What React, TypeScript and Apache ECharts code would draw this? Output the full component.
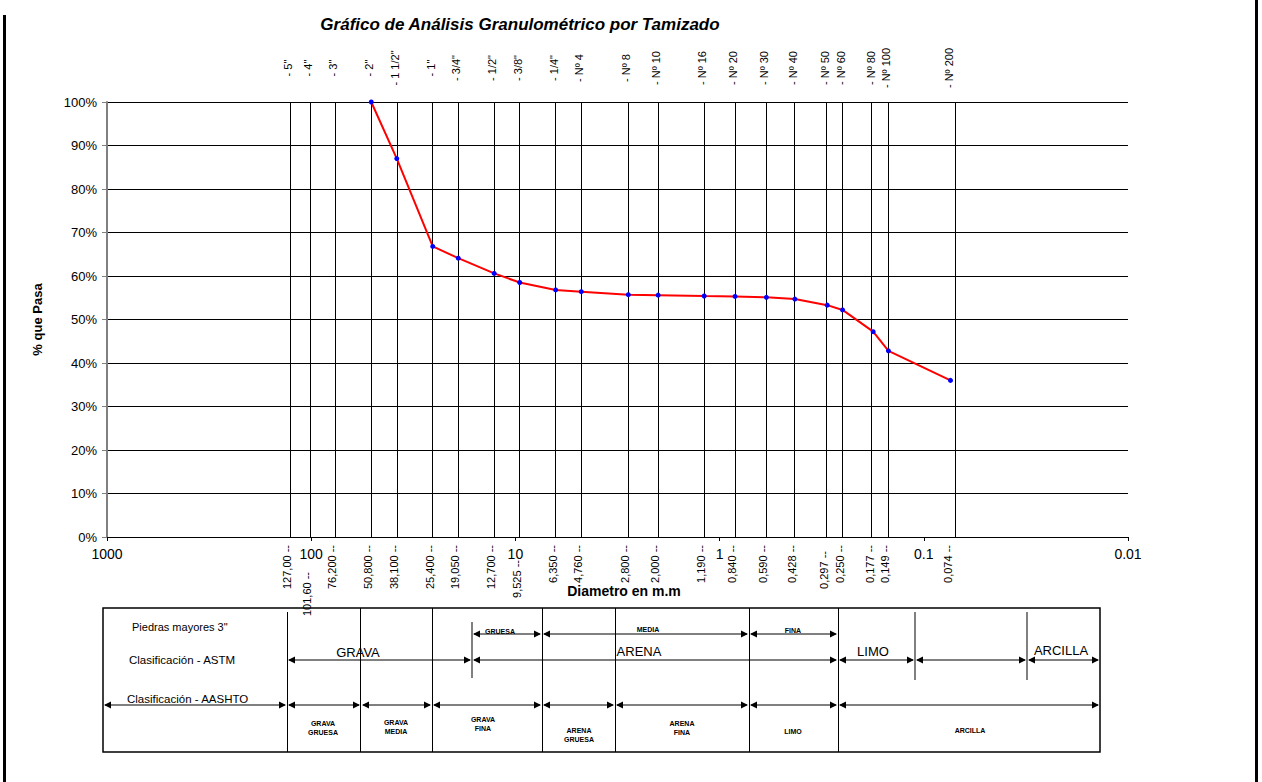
import React, { useEffect, useRef } from "react";
import * as echarts from "echarts";

// ---- data ----
const sieveNames = ['5"', '4"', '3"', '2"', '1 1/2"', '1"', '3/4"', '1/2"', '3/8"', '1/4"', 'Nº 4', 'Nº 8', 'Nº 10', 'Nº 16', 'Nº 20', 'Nº 30', 'Nº 40', 'Nº 50', 'Nº 60', 'Nº 80', 'Nº 100', 'Nº 200'];
const sieveDiam = [127, 101.6, 76.2, 50.8, 38.1, 25.4, 19.05, 12.7, 9.525, 6.35, 4.76, 2.8, 2.0, 1.19, 0.84, 0.59, 0.428, 0.297, 0.25, 0.177, 0.149, 0.074];
const sieveDiamLabels = ['127,00', '101,60', '76,200', '50,800', '38,100', '25,400', '19,050', '12,700', '9,525', '6,350', '4,760', '2,800', '2,000', '1,190', '0,840', '0,590', '0,428', '0,297', '0,250', '0,177', '0,149', '0,074'];
const testDiam = [50.8, 38.1, 25.4, 19.05, 12.7, 9.525, 6.35, 4.76, 2.8, 2.0, 1.19, 0.84, 0.59, 0.428, 0.297, 0.25, 0.177, 0.149, 0.074];
const percentPassing = [100, 87.0, 66.8, 64.1, 60.6, 58.5, 56.8, 56.4, 55.7, 55.6, 55.4, 55.3, 55.1, 54.7, 53.3, 52.2, 47.2, 42.8, 36.0];

const TITLE = "Gráfico de Análisis Granulométrico por Tamizado";
const X_NAME = "Diametro en m.m";
const Y_NAME = "% que Pasa";

const FONT = "Liberation Sans, Arial, sans-serif";

// label vertical drop (px) for crowded bottom labels
const bottomLabelDrop: Record<string, number> = { "101,60": 27, "9,525": 15, "0,297": 6 };

function arrow(x1: number, x2: number, y: number): any[] {
  return [
    { type: "line", shape: { x1: x1 + 2, y1: y, x2: x2 - 2, y2: y }, style: { stroke: "#000", lineWidth: 1 } },
    { type: "polygon", shape: { points: [[x1 + 1, y], [x1 + 8, y - 3.5], [x1 + 8, y + 3.5]] }, style: { fill: "#000" } },
    { type: "polygon", shape: { points: [[x2 - 1, y], [x2 - 8, y - 3.5], [x2 - 8, y + 3.5]] }, style: { fill: "#000" } },
  ];
}

function txt(text: string, x: number, y: number, size: number, bold = false, align = "center"): any {
  return {
    type: "text",
    x,
    y,
    style: {
      text,
      fill: "#000",
      fontSize: size,
      fontFamily: FONT,
      fontWeight: bold ? "bold" : "normal",
      align,
      verticalAlign: "middle",
      lineHeight: size + 2,
    },
  };
}

function vline(x: number, y1: number, y2: number, color = "#000", w = 1): any {
  return { type: "line", shape: { x1: x, y1, x2: x, y2 }, style: { stroke: color, lineWidth: w } };
}

function tableGraphics(): any[] {
  const g: any[] = [];
  // outer box
  g.push({ type: "rect", shape: { x: 103, y: 608, width: 997, height: 144 }, style: { fill: "none", stroke: "#000", lineWidth: 1.5 } });
  // dividers
  g.push(vline(287.5, 612, 752));
  [360.5, 432.5, 542.5, 615.5, 749.5, 838.5].forEach((x) => g.push(vline(x, 608, 752)));
  g.push(vline(472, 622, 678, "#808080", 2));
  g.push(vline(915, 612, 680, "#808080", 2));
  g.push(vline(1027, 612, 680, "#808080", 2));
  // row 1 (sub-classes of arena)
  g.push(...arrow(472, 542, 634), ...arrow(542, 749, 634), ...arrow(749, 838, 634));
  g.push(txt("GRUESA", 500, 631, 7, true), txt("MEDIA", 648, 629, 7, true), txt("FINA", 793, 630, 7, true));
  // ASTM row
  g.push(...arrow(287, 472, 660), ...arrow(472, 838, 660), ...arrow(838, 915, 660), ...arrow(915, 1027, 660), ...arrow(1027, 1100, 660));
  g.push(txt("GRAVA", 358, 652, 13), txt("ARENA", 639, 651, 13), txt("LIMO", 873, 651, 13), txt("ARCILLA", 1061, 650, 13));
  // AASHTO row
  [[103, 287], [287, 361], [361, 432], [432, 542], [542, 615], [615, 749], [749, 838], [838, 1100]].forEach(([a, b]) =>
    g.push(...arrow(a, b, 705))
  );
  g.push(txt("Piedras mayores 3\"", 132, 627, 11, false, "left"));
  g.push(txt("Clasificación - ASTM", 129, 660, 11.5, false, "left"));
  g.push(txt("Clasificación - AASHTO", 127, 699, 11.5, false, "left"));
  g.push(txt("GRAVA\nGRUESA", 323, 728, 7, true));
  g.push(txt("GRAVA\nMEDIA", 396, 727, 7, true));
  g.push(txt("GRAVA\nFINA", 483, 724, 7, true));
  g.push(txt("ARENA\nGRUESA", 579, 735, 7, true));
  g.push(txt("ARENA\nFINA", 682, 728, 7, true));
  g.push(txt("LIMO", 793, 731, 7, true));
  g.push(txt("ARCILLA", 970, 730, 7, true));
  return g;
}

export default function App() {
  const ref = useRef<HTMLDivElement>(null);
  useEffect(() => {
    if (!ref.current) return;
    const chart = echarts.init(ref.current, null, { renderer: "svg" });
    const option: any = {
      animation: false,
      backgroundColor: "#fff",
      grid: { left: 107, right: 134, top: 102, bottom: 245, containLabel: false },
      xAxis: {
        type: "log",
        logBase: 10,
        min: 0.01,
        max: 1000,
        inverse: true,
        splitNumber: 5,
        axisLine: { show: true, lineStyle: { color: "#000", width: 1 } },
        axisTick: { show: true, length: 4, lineStyle: { color: "#000" } },
        minorTick: { show: false },
        splitLine: { show: false },
        axisLabel: {
          fontSize: 14,
          fontFamily: FONT,
          color: "#000",
          margin: 10,
          showMinLabel: true,
          showMaxLabel: true,
          formatter: (v: number) => String(+Number(v).toPrecision(6)),
        },
      },
      yAxis: {
        type: "value",
        min: 0,
        max: 100,
        interval: 10,
        name: Y_NAME,
        nameLocation: "middle",
        nameRotate: 90,
        nameGap: 63,
        nameTextStyle: { fontSize: 13, fontWeight: "bold", fontFamily: FONT, color: "#000" },
        axisLine: { show: true, lineStyle: { color: "#808080", width: 2 } },
        axisTick: { show: true, length: 5, lineStyle: { color: "#808080" } },
        splitLine: { show: true, lineStyle: { color: "#000", width: 1 } },
        axisLabel: { formatter: "{value}%", fontSize: 13, fontFamily: FONT, color: "#000", margin: 10 },
      },
      series: [
        {
          type: "line",
          name: "tamices",
          data: [],
          z: 1,
          silent: true,
          markLine: {
            silent: true,
            symbol: ["none", "none"],
            label: { show: false },
            lineStyle: { color: "#000", width: 1, type: "solid" },
            emphasis: { disabled: true },
            data: sieveDiam.map((d) => ({ xAxis: d })),
          },
        },
        {
          type: "line",
          name: "% que pasa",
          z: 5,
          data: testDiam.map((d, i) => [d, percentPassing[i]]),
          lineStyle: { color: "#ff0000", width: 2 },
          symbol: "circle",
          symbolSize: 5,
          showSymbol: true,
          itemStyle: { color: "#0000ff", borderWidth: 0 },
        },
      ],
    };
    chart.setOption(option);

    const px = (d: number) => chart.convertToPixel({ xAxisIndex: 0 }, d) as unknown as number;
    const g: any[] = [];
    // page borders
    g.push({ type: "rect", shape: { x: 3, y: 15, width: 3, height: 767 }, style: { fill: "#000" } });
    g.push({ type: "rect", shape: { x: 1255, y: 0, width: 3, height: 782 }, style: { fill: "#000" } });
    // title
    g.push({
      type: "text",
      x: 520,
      y: 24,
      style: { text: TITLE, fontSize: 17, fontWeight: "bold", fontStyle: "italic", fontFamily: FONT, fill: "#000", align: "center", verticalAlign: "middle" },
    });
    // x name
    g.push({
      type: "text",
      x: 624,
      y: 591,
      style: { text: X_NAME, fontSize: 14, fontWeight: "bold", fontFamily: FONT, fill: "#000", align: "center", verticalAlign: "middle" },
    });
    // sieve labels top & bottom
    sieveDiam.forEach((d, i) => {
      const x = px(d);
      g.push({
        type: "text",
        x: x - 2,
        y: 68,
        rotation: Math.PI / 2,
        style: { text: "- " + sieveNames[i], fontSize: 11, fontFamily: FONT, fill: "#000", align: "center", verticalAlign: "middle" },
      });
      const lab = sieveDiamLabels[i];
      g.push({
        type: "text",
        x: x - 3,
        y: 545 + (bottomLabelDrop[lab] || 0),
        rotation: Math.PI / 2,
        style: { text: lab + " --", fontSize: 11, fontFamily: FONT, fill: "#000", align: "right", verticalAlign: "middle" },
      });
    });
    g.push(...tableGraphics());
    chart.setOption({ graphic: { elements: g } });
    return () => chart.dispose();
  }, []);
  return <div ref={ref} style={{ position: "absolute", left: 0, top: 0, width: 1262, height: 782 }} />;
}
